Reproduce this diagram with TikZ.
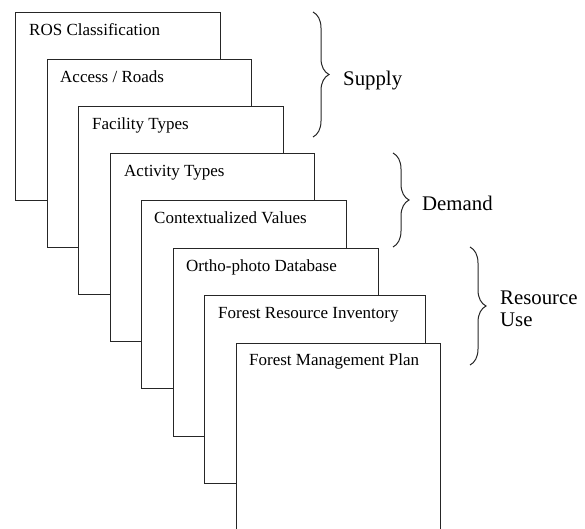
\documentclass[tikz,border=0pt]{standalone}
\usepackage{fontspec}
\setmainfont{Liberation Serif}
\usetikzlibrary{
    calc,
    positioning,
    decorations.pathreplacing
}

\tikzset{
    sheet/.style={draw=black!85,line width=1pt,fill=white,anchor=north west,
        minimum width=205pt,minimum height=188pt,inner sep=0pt,outer sep=0pt},
    sheettext/.style={anchor=base west,inner sep=0pt,
        font=\fontsize{17}{20}\selectfont},
    groupbrace/.style={draw=black!85,line width=1pt,decorate,
        decoration={brace,amplitude=16pt}},
    grouplabel/.style={inner sep=0pt,align=left,
        font=\fontsize{20.8}{22}\selectfont}
}

\begin{document}
\begin{tikzpicture}[x=1pt,y=1pt]

\clip (0,0) rectangle (585,-528);

%====================================================
% Fogli sovrapposti
%====================================================

\node[sheet] (ros) at (15,-12) {};
\node[sheettext] (rostext) at ($(ros.north west)+(14,-23)$) {ROS Classification};

\node[sheet,minimum width=204pt] (access) at (47,-59) {};
\node[sheettext] (accesstext) at ($(access.north west)+(13,-23)$) {Access / Roads};

\node[sheet] (facility) at (78,-106) {};
\node[sheettext] (facilitytext) at ($(facility.north west)+(14,-23)$) {Facility Types};

\node[sheet,minimum width=204pt] (activity) at (110,-153) {};
\node[sheettext] (activitytext) at ($(activity.north west)+(14,-23)$) {Activity Types};

\node[sheet] (values) at (141,-200) {};
\node[sheettext] (valuestext) at ($(values.north west)+(13,-23)$) {Contextualized Values};

\node[sheet] (ortho) at (173,-248) {};
\node[sheettext] (orthotext) at ($(ortho.north west)+(13,-23)$) {Ortho-photo Database};

\node[sheet,minimum width=221pt] (inventory) at (204,-295) {};
\node[sheettext] (inventorytext) at ($(inventory.north west)+(14,-23)$) {Forest Resource Inventory};

\node[sheet,minimum width=204pt] (plan) at (236,-343) {};
\node[sheettext] (plantext) at ($(plan.north west)+(13,-22)$) {Forest Management Plan};

%====================================================
% Parentesi graffe
%====================================================

\coordinate (supplytop) at (313,-12);
\coordinate (supplybot) at (313,-137);
\draw[groupbrace] (supplytop) -- (supplybot);
\node[grouplabel,anchor=base west] (supply) at (343,-85) {Supply};

\coordinate (demandtop) at (393,-153);
\coordinate (demandbot) at (393,-247);
\draw[groupbrace] (demandtop) -- (demandbot);
\node[grouplabel,anchor=base west] (demand) at (422,-210) {Demand};

\coordinate (usetop) at (470,-247);
\coordinate (usebot) at (470,-365);
\draw[groupbrace] (usetop) -- (usebot);
\node[grouplabel,anchor=west] (resuse) at (500,-309) {Resource\\Use};

\end{tikzpicture}
\end{document}
